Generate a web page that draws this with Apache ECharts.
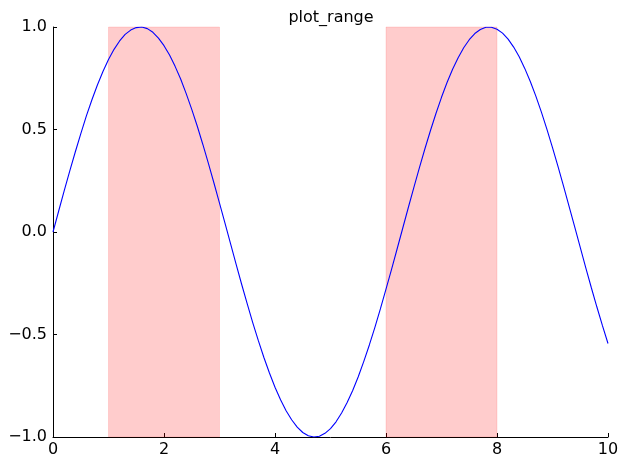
<!DOCTYPE html>
<html>
<head>
<meta charset="utf-8">
<script src="https://cdn.jsdelivr.net/npm/echarts@6/dist/echarts.min.js"></script>
<style>
  html, body { margin: 0; padding: 0; background: #fff; }
  #chart { width: 627px; height: 467px; }
</style>
</head>
<body>
<div id="chart"></div>
<script>
// curve values, x every 0.1 from 0 to 10
const ys = [
  0.000, 0.100, 0.199, 0.296, 0.389, 0.479, 0.565, 0.644, 0.717, 0.783,
  0.841, 0.891, 0.932, 0.964, 0.985, 0.997, 1.000, 0.992, 0.974, 0.946,
  0.909, 0.863, 0.808, 0.746, 0.675, 0.598, 0.516, 0.427, 0.335, 0.239,
  0.141, 0.042, -0.058, -0.158, -0.256, -0.351, -0.443, -0.530, -0.612, -0.688,
  -0.757, -0.818, -0.872, -0.916, -0.952, -0.978, -0.994, -1.000, -0.996, -0.982,
  -0.959, -0.926, -0.883, -0.832, -0.773, -0.706, -0.631, -0.551, -0.465, -0.374,
  -0.279, -0.182, -0.083, 0.017, 0.117, 0.215, 0.312, 0.405, 0.494, 0.578,
  0.657, 0.729, 0.794, 0.850, 0.899, 0.938, 0.968, 0.988, 0.999, 0.999,
  0.989, 0.970, 0.941, 0.902, 0.855, 0.798, 0.734, 0.663, 0.585, 0.501,
  0.412, 0.319, 0.223, 0.124, 0.025, -0.075, -0.175, -0.272, -0.366, -0.457,
  -0.544
]
const xStep = 0.1
const spans = [[1, 3], [6, 8]]
const xTicks = [0, 2, 4, 6, 8, 10]
const yTicks = [-1, -0.5, 0, 0.5, 1]

const font = 'DejaVu Sans'
const chart = echarts.init(document.getElementById('chart'))

chart.setOption({
  animation: false,
  title: {
    text: 'plot_range',
    left: 326,
    textAlign: 'center',
    top: 5,
    textStyle: { fontFamily: font, fontSize: 16, fontWeight: 'normal', color: '#000' }
  },
  grid: { left: 53, right: 19, top: 27, bottom: 30, containLabel: false },
  xAxis: {
    type: 'value',
    min: xTicks[0],
    max: xTicks[xTicks.length - 1],
    interval: 2,
    axisLine: { onZero: false, lineStyle: { color: '#000', width: 1 } },
    axisTick: { inside: true, length: 4, lineStyle: { color: '#000' } },
    axisLabel: { color: '#000', fontFamily: font, fontSize: 16, margin: 5 },
    splitLine: { show: false }
  },
  yAxis: {
    type: 'value',
    min: yTicks[0],
    max: yTicks[yTicks.length - 1],
    interval: 0.5,
    axisLine: { show: true, onZero: false, lineStyle: { color: '#000', width: 1 } },
    axisTick: { show: true, inside: true, length: 4, lineStyle: { color: '#000' } },
    axisLabel: {
      color: '#000',
      fontFamily: font,
      fontSize: 16,
      margin: 6,
      formatter: (v) => v.toFixed(1).replace('-', '\u2212')
    },
    splitLine: { show: false }
  },
  series: [
    {
      type: 'line',
      data: ys.map((y, i) => [+(i * xStep).toFixed(1), y]),
      showSymbol: false,
      lineStyle: { color: '#0000ff', width: 1.1 },
      markArea: {
        silent: true,
        itemStyle: { color: 'rgba(255,0,0,0.2)', borderColor: 'rgba(255,0,0,0.12)', borderWidth: 1 },
        data: spans.map(([a, b]) => [{ xAxis: a }, { xAxis: b }])
      },
      z: 3
    }
  ]
})
</script>
</body>
</html>
